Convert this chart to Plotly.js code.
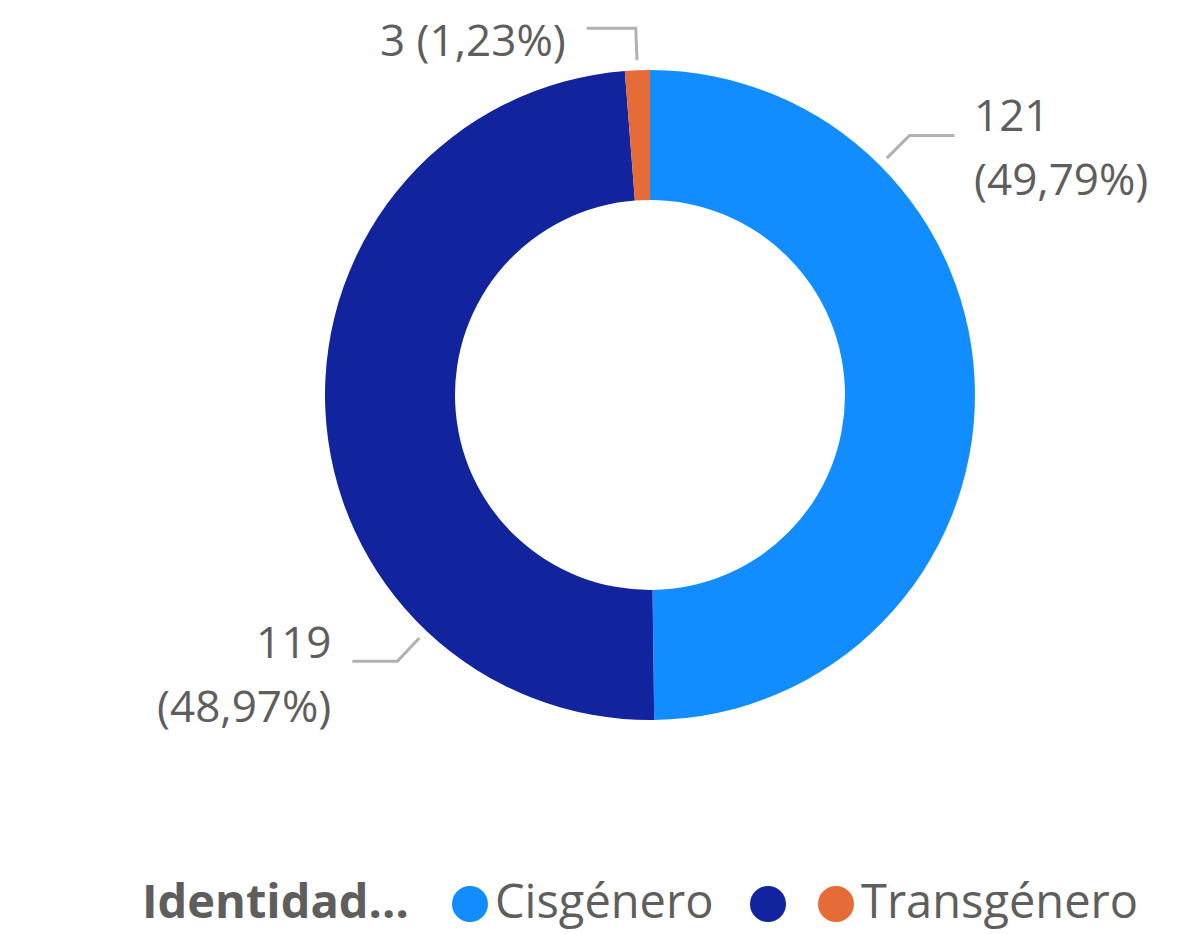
<!DOCTYPE html>
<html><head><meta charset="utf-8">
<script src="https://cdn.plot.ly/plotly-3.0.1.min.js"></script>
<style>html,body{margin:0;padding:0;background:#fff}#chart{width:1189px;height:934px}</style>
</head><body><div id="chart"></div>
<script>
// ---- data ----
const categories = ['Cisgénero', '', 'Transgénero'];
const values = [121, 119, 3];
const colors = ['#118DFF', '#12239E', '#E66C37'];
const legendTitle = 'Identidad...';

// ---- layout constants ----
const W = 1189, H = 934;
const CX = 650, CY = 395, R = 325, HOLE = 0.6;
const FONT = '"Open Sans", "Noto Sans", sans-serif';
const TEXT_COLOR = '#605E5C';
const LEADER_COLOR = '#B3B0AD';
const labelAngles = [45, 223.5, null];      // null -> slice mid angle
const labelOneLine = [false, false, true];
const labelDy = [-21, -20, 11];            // first-line centre relative to leader y (px)
const LINE_GAP = 64;
const legendCenterY = 904;
const legendTextY = 900;
const legendTitleRight = 410;
const legendCircles = [470, 768, 836];
const CIRCLE_D = 36;

const px = x => x / W;
const py = y => 1 - y / H;

const total = values.reduce((a, b) => a + b, 0);
const fmtPct = v => (v / total * 100).toFixed(2).replace('.', ',') + '%';

const shapes = [];
const annotations = [];

let cum = 0;
values.forEach((v, i) => {
  const mid = (cum + v / 2) / total * 360;
  cum += v;
  const ang = labelAngles[i] == null ? mid : labelAngles[i];
  const rad = ang * Math.PI / 180;
  const sx = Math.sin(rad), sy = -Math.cos(rad);
  const r1 = R + 10, r2 = R + 42;
  const x1 = CX + r1 * sx, y1 = CY + r1 * sy;
  const x2 = CX + r2 * sx, y2 = CY + r2 * sy;
  const right = ang < 180;
  const hl = labelOneLine[i] ? 49 : 45;
  const x3 = x2 + (right ? hl : -hl);
  shapes.push({
    type: 'path', xref: 'paper', yref: 'paper',
    path: `M ${px(x1)},${py(y1)} L ${px(x2)},${py(y2)} L ${px(x3)},${py(y2)}`,
    line: {color: LEADER_COLOR, width: 3}
  });
  const tx = x3 + (right ? 18 : -20);
  const lines = labelOneLine[i]
    ? [`${v} (${fmtPct(v)})`]
    : [`${v}`, `(${fmtPct(v)})`];
  lines.forEach((t, k) => {
    annotations.push({
      xref: 'paper', yref: 'paper', x: px(tx), y: py(y2 + labelDy[i] + k * LINE_GAP),
      xanchor: right ? 'left' : 'right', yanchor: 'middle',
      text: t, showarrow: false, borderpad: 0,
      font: {family: FONT, size: 44, color: TEXT_COLOR}
    });
  });
});

// ---- legend (custom, circles) ----
annotations.push({
  xref: 'paper', yref: 'paper', x: px(legendTitleRight), y: py(legendTextY),
  xanchor: 'right', yanchor: 'middle', showarrow: false, borderpad: 0,
  text: '<b>' + legendTitle + '</b>',
  font: {family: FONT, size: 47, color: TEXT_COLOR}
});
categories.forEach((c, i) => {
  const cx = legendCircles[i];
  shapes.push({
    type: 'circle', xref: 'paper', yref: 'paper',
    xsizemode: 'pixel', ysizemode: 'pixel',
    xanchor: px(cx), yanchor: py(legendCenterY),
    x0: -CIRCLE_D / 2, x1: CIRCLE_D / 2, y0: -CIRCLE_D / 2, y1: CIRCLE_D / 2,
    fillcolor: colors[i], line: {width: 0}
  });
  if (c) {
    annotations.push({
      xref: 'paper', yref: 'paper', x: px(cx + CIRCLE_D / 2 + 6), y: py(legendTextY),
      xanchor: 'left', yanchor: 'middle', showarrow: false, borderpad: 0,
      text: c, font: {family: FONT, size: 47, color: TEXT_COLOR}
    });
  }
});

const trace = {
  type: 'pie',
  values: values,
  labels: categories.map((c, i) => c || '(En blanco)'),
  hole: HOLE,
  sort: false,
  direction: 'clockwise',
  rotation: 0,
  textinfo: 'none',
  hoverinfo: 'label+value+percent',
  marker: {colors: colors, line: {width: 0}},
  showlegend: false,
  domain: {x: [px(CX - R), px(CX + R)], y: [py(CY + R), py(CY - R)]}
};

const layout = {
  width: W, height: H,
  margin: {l: 0, r: 0, t: 0, b: 0},
  paper_bgcolor: '#ffffff',
  showlegend: false,
  shapes: shapes,
  annotations: annotations
};

Plotly.newPlot('chart', [trace], layout, {displayModeBar: false, staticPlot: true});
</script>
</body></html>
